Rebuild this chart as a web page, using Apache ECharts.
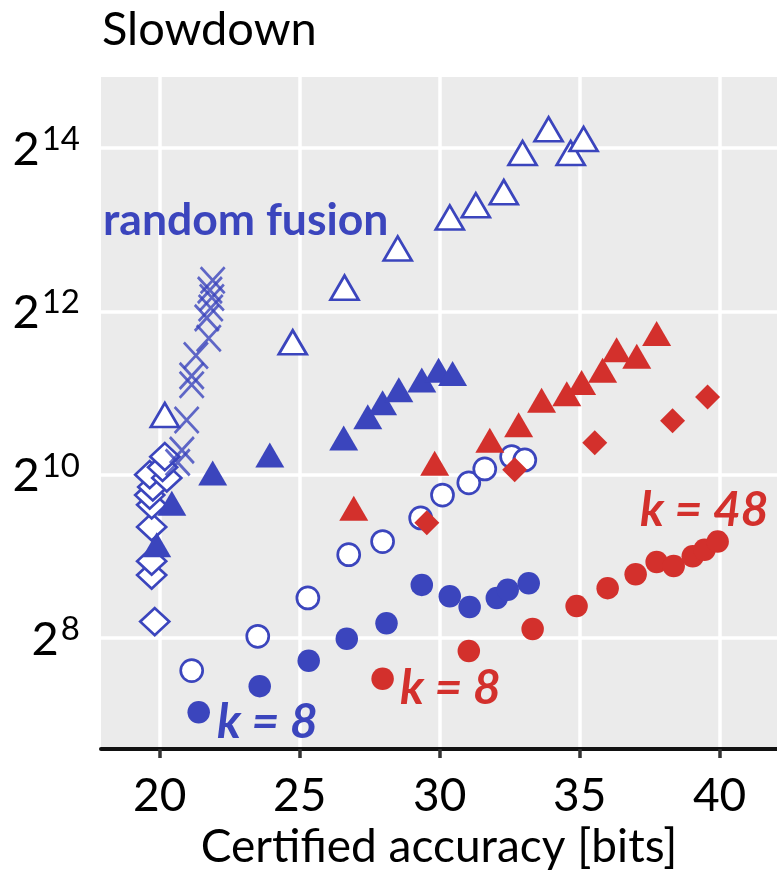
<!DOCTYPE html>
<html>
<head>
<meta charset="utf-8">
<title>Slowdown vs certified accuracy</title>
<script src="https://cdn.jsdelivr.net/npm/echarts@6/dist/echarts.min.js"></script>
<style>
  html, body { margin: 0; padding: 0; background: #fff; }
  #chart { width: 777px; height: 872px; }
</style>
</head>
<body>
<div id="chart"></div>
<script>
// tick positions; y values are log2 of the slowdown
const xTicks = [20, 25, 30, 35, 40];
const yTicks = [8, 10, 12, 14];

// [certified accuracy (bits), log2(slowdown)]
const blueOpenDiamond = [[19.82, 8.20], [19.71, 8.77], [19.71, 8.94], [19.71, 9.36], [19.71, 9.63], [19.64, 9.75],
    [19.75, 9.85], [19.64, 10.0], [20.25, 9.96], [20.1, 10.09], [20.18, 10.22]];
const blueCross = [[20.64, 10.15], [20.79, 10.30], [20.96, 10.67], [21.14, 11.10], [21.14, 11.21], [21.29, 11.46],
    [21.75, 11.67], [21.68, 11.92], [21.82, 12.04], [21.86, 12.17], [21.79, 12.26], [21.89, 12.38]];
const blueOpenTriangle = [[20.18, 10.73], [24.75, 11.62], [26.6, 12.29], [28.5, 12.77], [30.36, 13.15], [31.29, 13.30],
    [32.29, 13.46], [32.96, 13.94], [33.89, 14.23], [34.68, 13.94], [35.14, 14.11]];
const blueTriangle = [[19.89, 9.14], [20.43, 9.65], [21.89, 10.02], [23.93, 10.24], [26.57, 10.45], [27.43, 10.71],
    [27.96, 10.88], [28.54, 11.04], [29.36, 11.16], [29.96, 11.28], [30.46, 11.24]];
const blueOpenCircle = [[21.14, 7.60], [23.5, 8.02], [25.29, 8.49], [26.75, 9.02], [27.96, 9.18], [29.32, 9.47],
    [30.1, 9.75], [31.04, 9.90], [31.61, 10.07], [32.57, 10.22], [33.04, 10.18]];
const blueCircle = [[21.39, 7.09], [23.57, 7.41], [25.32, 7.72], [26.68, 7.99], [28.1, 8.18], [29.36, 8.65],
    [30.36, 8.51], [31.07, 8.38], [32.04, 8.49], [32.43, 8.59], [33.18, 8.67]];
const redTriangle = [[26.93, 9.59], [29.82, 10.14], [31.79, 10.42], [32.82, 10.61], [33.64, 10.91], [34.54, 10.99],
    [35.07, 11.13], [35.82, 11.28], [36.32, 11.53], [37.04, 11.45], [37.75, 11.73]];
const redDiamond = [[29.54, 9.41], [32.68, 10.06], [35.54, 10.39], [38.32, 10.66], [39.57, 10.95]];
const redCircle = [[27.96, 7.50], [31.04, 7.84], [33.32, 8.11], [34.89, 8.39], [36.0, 8.61], [37.0, 8.78],
    [37.75, 8.93], [38.36, 8.88], [39.04, 9.0], [39.46, 9.08], [39.93, 9.18]];

const BLUE = '#3B45BD';
const RED = '#D3302C';
const FONT = 'Lato, "Open Sans", sans-serif';
const CROSS = 'path://M0,0L10,10M10,0L0,10';

const chart = echarts.init(document.getElementById('chart'));

function scatter(data, symbol, size, filled, color, extra) {
    return Object.assign({
        type: 'scatter',
        data: data,
        symbol: symbol,
        symbolSize: size,
        itemStyle: filled
            ? { color: color, opacity: 1 }
            : { color: '#fff', borderColor: color, borderWidth: 2.7, opacity: 1 },
        emphasis: { disabled: true }
    }, extra || {});
}

function label(text, x, y, color, italic, size) {
    return {
        type: 'text',
        left: x,
        top: y,
        z: 100,
        style: {
            text: text,
            fill: color,
            font: (italic ? 'italic ' : '') + 'bold ' + size + 'px ' + FONT
        }
    };
}

const option = {
    animation: false,
    grid: {
        left: 101, right: 0, top: 77, bottom: 123,
        show: true, backgroundColor: '#EBEBEB', borderWidth: 0,
        outerBoundsMode: 'none'
    },
    xAxis: {
        type: 'value',
        min: 17.9,
        max: 42.05,
        name: 'Certified accuracy [bits]',
        nameLocation: 'middle',
        nameGap: 74,
        nameTextStyle: { fontFamily: FONT, fontSize: 46, color: '#000' },
        axisLine: { show: true, onZero: false, lineStyle: { color: '#111', width: 4 } },
        axisTick: { show: true, length: 9, customValues: xTicks, lineStyle: { color: '#333', width: 3.5 } },
        axisLabel: { customValues: xTicks, margin: 24, fontFamily: FONT, fontSize: 46, color: '#000' },
        splitLine: { show: true, lineStyle: { color: '#fff', width: 3.5 } }
    },
    yAxis: {
        type: 'value',
        min: 6.64,
        max: 14.87,
        axisLine: { show: false },
        axisTick: { show: false, customValues: yTicks },
        axisLabel: {
            customValues: yTicks,
            margin: 21,
            formatter: v => '{b|2}{s|' + v + '}',
            rich: {
                b: { fontFamily: FONT, fontSize: 47, color: '#000', lineHeight: 50, verticalAlign: 'bottom' },
                s: { fontFamily: FONT, fontSize: 33, color: '#000', lineHeight: 50, verticalAlign: 'top', padding: [0, 0, 0, 2] }
            }
        },
        splitLine: { show: true, lineStyle: { color: '#fff', width: 3.5 } }
    },
    series: [
        scatter(blueOpenDiamond, 'diamond', [29, 27], false, BLUE),
        scatter(blueCross, CROSS, [24, 26], false, BLUE,
            { itemStyle: { color: 'transparent', borderColor: BLUE, borderWidth: 2.8 } }),
        scatter(blueOpenTriangle, 'triangle', [28, 24], false, BLUE),
        scatter(blueTriangle, 'triangle', [29, 25], true, BLUE),
        scatter(blueOpenCircle, 'circle', 22, false, BLUE),
        scatter(blueCircle, 'circle', 22.5, true, BLUE),
        scatter(redTriangle, 'triangle', [29, 25], true, RED),
        scatter(redDiamond, 'diamond', [25, 25], true, RED),
        scatter(redCircle, 'circle', 22.5, true, RED)
    ],
    graphic: [
        {
            type: 'text', left: 102, top: 6,
            style: { text: 'Slowdown', fill: '#000', font: '47px ' + FONT }
        },
        label('random fusion', 103, 198, BLUE, false, 44.5),
        label('k = 8', 217, 699, BLUE, true, 48),
        label('k = 8', 400, 665, RED, true, 48),
        label('k = 48', 640, 487, RED, true, 48)
    ]
};

chart.setOption(option);

window.addEventListener('resize', function () {
    chart.resize();
});
</script>
</body>
</html>
